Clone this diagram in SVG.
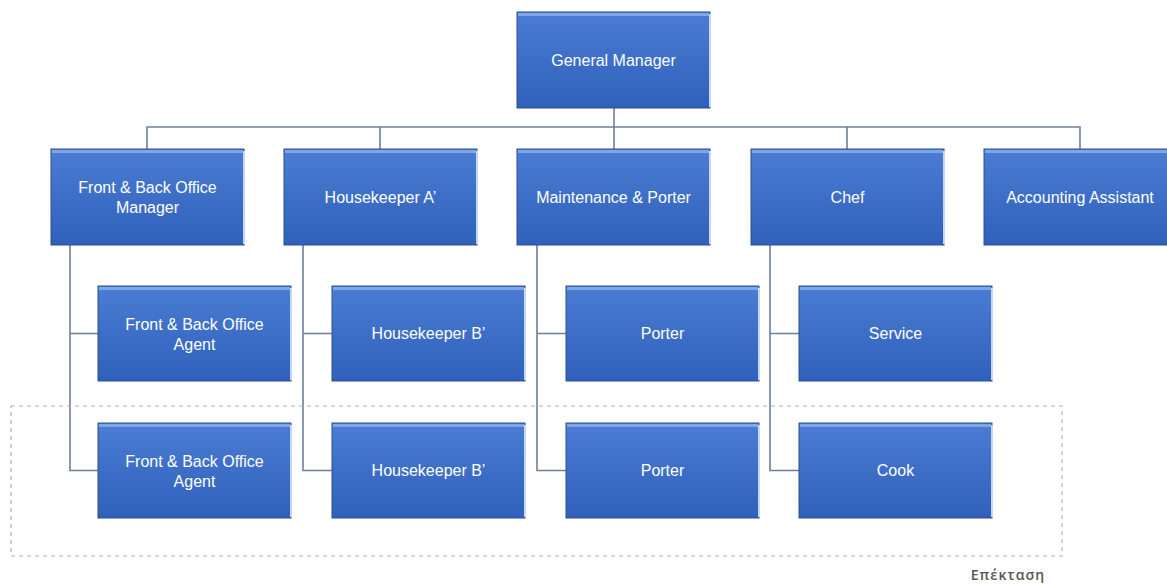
<svg xmlns="http://www.w3.org/2000/svg" width="1167" height="584" viewBox="0 0 1167 584">
<defs>
<linearGradient id="g" x1="0" y1="0" x2="0" y2="1">
<stop offset="0" stop-color="#4b7dd3"/>
<stop offset="1" stop-color="#2f60bb"/>
</linearGradient>
<style>
.box{fill:url(#g);stroke:#2b4f95;stroke-width:1}
.top{fill:#8fb0ea;opacity:0.8}
.edge{stroke:#c6d7f5;stroke-width:2}
.t{font-family:"Liberation Sans",Arial,sans-serif;font-size:16px;fill:#ffffff;text-anchor:middle}
.c{fill:none;stroke:#6e7f9c;stroke-width:1.6}
.d{fill:none;stroke:#b3b3b3;stroke-width:1.2;stroke-dasharray:4 4}
.lbl{font-family:"Open Sans","Liberation Sans",sans-serif;font-size:14px;font-weight:600;letter-spacing:1px;fill:#555555}
</style>
</defs>
<rect width="1167" height="584" fill="#ffffff"/>

<g id="connectors">
<path class="c" d="M614 108 V149 M147 149 V127 H1080 V149 M380 127 V149 M847 127 V149"/>
<path class="c" d="M70 245 V470.5 H98 M70 333.5 H98"/>
<path class="c" d="M303 245 V470.5 H332 M303 333.5 H332"/>
<path class="c" d="M537 245 V470.5 H566 M537 333.5 H566"/>
<path class="c" d="M770 245 V470.5 H799 M770 333.5 H799"/>
</g>

<g id="expansion">
<rect class="d" x="11" y="406" width="1051" height="150"/>
<text class="lbl" x="1008" y="580" text-anchor="middle">Επέκταση</text>
</g>

<g id="gm">
<rect class="box" x="517" y="12" width="193" height="96"/>
<rect class="top" x="518" y="13" width="191" height="3"/>
<line class="edge" x1="710" y1="14" x2="710" y2="107"/>
<text class="t" x="613.5" y="66">General Manager</text>
</g>

<g id="fbom">
<rect class="box" x="51" y="149" width="193" height="96"/>
<rect class="top" x="52" y="150" width="191" height="3"/>
<line class="edge" x1="244" y1="151" x2="244" y2="244"/>
<text class="t" x="147.5" y="193">Front &amp; Back Office</text>
<text class="t" x="147.5" y="213">Manager</text>
</g>

<g id="hka">
<rect class="box" x="284" y="149" width="193" height="96"/>
<rect class="top" x="285" y="150" width="191" height="3"/>
<line class="edge" x1="477" y1="151" x2="477" y2="244"/>
<text class="t" x="380.5" y="203">Housekeeper  A’</text>
</g>

<g id="mp">
<rect class="box" x="517" y="149" width="193" height="96"/>
<rect class="top" x="518" y="150" width="191" height="3"/>
<line class="edge" x1="710" y1="151" x2="710" y2="244"/>
<text class="t" x="613.5" y="203">Maintenance &amp; Porter</text>
</g>

<g id="chef">
<rect class="box" x="751" y="149" width="193" height="96"/>
<rect class="top" x="752" y="150" width="191" height="3"/>
<line class="edge" x1="944" y1="151" x2="944" y2="244"/>
<text class="t" x="847.5" y="203">Chef</text>
</g>

<g id="acc">
<rect class="box" x="984" y="149" width="193" height="96"/>
<rect class="top" x="985" y="150" width="191" height="3"/>
<text class="t" x="1080" y="203">Accounting Assistant</text>
</g>

<g id="fba1">
<rect class="box" x="98" y="286" width="193" height="95"/>
<rect class="top" x="99" y="287" width="191" height="3"/>
<line class="edge" x1="291" y1="288" x2="291" y2="380"/>
<text class="t" x="194.5" y="330">Front &amp; Back Office</text>
<text class="t" x="194.5" y="350">Agent</text>
</g>

<g id="hkb1">
<rect class="box" x="332" y="286" width="193" height="95"/>
<rect class="top" x="333" y="287" width="191" height="3"/>
<line class="edge" x1="525" y1="288" x2="525" y2="380"/>
<text class="t" x="428.5" y="339">Housekeeper  B’</text>
</g>

<g id="porter1">
<rect class="box" x="566" y="286" width="193" height="95"/>
<rect class="top" x="567" y="287" width="191" height="3"/>
<line class="edge" x1="759" y1="288" x2="759" y2="380"/>
<text class="t" x="662.5" y="339">Porter</text>
</g>

<g id="service">
<rect class="box" x="799" y="286" width="193" height="95"/>
<rect class="top" x="800" y="287" width="191" height="3"/>
<line class="edge" x1="992" y1="288" x2="992" y2="380"/>
<text class="t" x="895.5" y="339">Service</text>
</g>

<g id="fba2">
<rect class="box" x="98" y="423" width="193" height="95"/>
<rect class="top" x="99" y="424" width="191" height="3"/>
<line class="edge" x1="291" y1="425" x2="291" y2="517"/>
<text class="t" x="194.5" y="467">Front &amp; Back Office</text>
<text class="t" x="194.5" y="487">Agent</text>
</g>

<g id="hkb2">
<rect class="box" x="332" y="423" width="193" height="95"/>
<rect class="top" x="333" y="424" width="191" height="3"/>
<line class="edge" x1="525" y1="425" x2="525" y2="517"/>
<text class="t" x="428.5" y="476">Housekeeper  B’</text>
</g>

<g id="porter2">
<rect class="box" x="566" y="423" width="193" height="95"/>
<rect class="top" x="567" y="424" width="191" height="3"/>
<line class="edge" x1="759" y1="425" x2="759" y2="517"/>
<text class="t" x="662.5" y="476">Porter</text>
</g>

<g id="cook">
<rect class="box" x="799" y="423" width="193" height="95"/>
<rect class="top" x="800" y="424" width="191" height="3"/>
<line class="edge" x1="992" y1="425" x2="992" y2="517"/>
<text class="t" x="895.5" y="476">Cook</text>
</g>
</svg>
